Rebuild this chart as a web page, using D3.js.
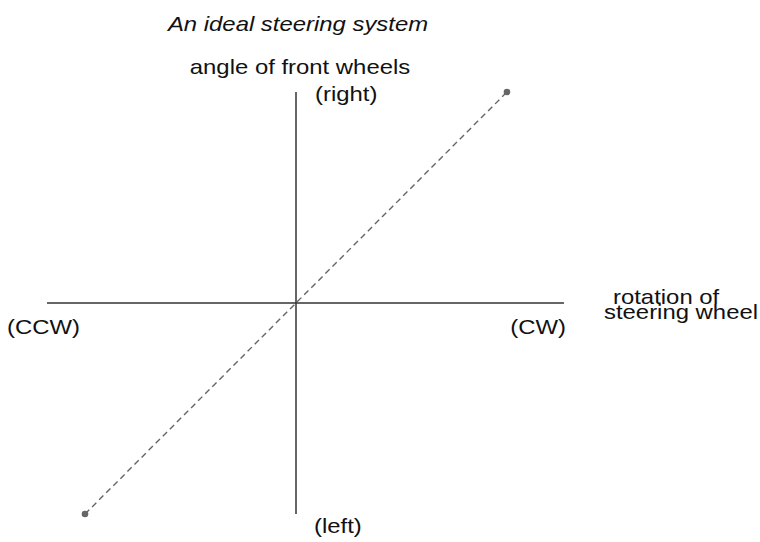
<!DOCTYPE html>
<html>
<head>
<meta charset="utf-8">
<script src="https://cdn.jsdelivr.net/npm/d3@7"></script>
<style>
body { margin: 0; background: #fff; }
text { font-family: "Liberation Sans", Arial, sans-serif; fill: #111; }
</style>
</head>
<body>
<svg id="chart" width="760" height="542"></svg>
<script>
// how far each axis reaches, in steering units
var xAxisExtent = [-1.18, 1.27];
var yAxisExtent = [-1, 1];

// ideal steering: wheel angle follows wheel rotation one to one
var rotation = [-1, 1];
var wheelAngle = [-1, 1];

var titleText = 'An ideal steering system';
var yTitle = 'angle of front wheels';
var xTitle = ['rotation of', 'steering wheel'];
var xEnds = ['(CCW)', '(CW)'];
var yEnds = ['(left)', '(right)'];

var svg = d3.select('#chart'),
	stretch = 1.16,
	fs = 20.6;

var x = d3.scaleLinear().domain([-1, 1]).range([85, 507]),
	y = d3.scaleLinear().domain([-1, 1]).range([514, 92]);

// axes through the origin
svg.append('line')
	.attr('x1', x(xAxisExtent[0])).attr('x2', x(xAxisExtent[1]))
	.attr('y1', y(0)).attr('y2', y(0))
	.attr('stroke', '#333').attr('stroke-width', 1.5);
svg.append('line')
	.attr('x1', x(0)).attr('x2', x(0))
	.attr('y1', y(yAxisExtent[0])).attr('y2', y(yAxisExtent[1]))
	.attr('stroke', '#333').attr('stroke-width', 1.5);

// the response line
var pts = rotation.map(function (r, i) {return [r, wheelAngle[i]];});
svg.append('path')
	.datum(pts)
	.attr('d', d3.line().x(function (d) {return x(d[0]);}).y(function (d) {return y(d[1]);}))
	.attr('fill', 'none')
	.attr('stroke', '#666')
	.attr('stroke-width', 1.4)
	.attr('stroke-dasharray', '6,4');
svg.selectAll('circle.end').data(pts).enter().append('circle')
	.attr('class', 'end')
	.attr('cx', function (d) {return x(d[0]);})
	.attr('cy', function (d) {return y(d[1]);})
	.attr('r', 3.3)
	.attr('fill', '#666');

// labels, slightly wide like the original lettering
function label(str, px, py, anchor, italic) {
	return svg.append('g')
		.attr('transform', 'translate(' + px + ',' + py + ') scale(' + stretch + ',1)')
		.append('text')
		.attr('text-anchor', anchor)
		.attr('font-size', fs)
		.attr('font-style', italic ? 'italic' : 'normal')
		.text(str);
}

label(titleText, 298, 31, 'middle', true);
label(yTitle, x(0) + 4, 74, 'middle');
label(yEnds[1], x(0) + 19, 101, 'start');
label(yEnds[0], x(0) + 18, 533, 'start');
label(xEnds[0], 7, y(0) + 31, 'start');
label(xEnds[1], x(xAxisExtent[1]) + 2, y(0) + 31, 'end');
label(xTitle[0], 613, y(0) + 1, 'start');
label(xTitle[1], 604, y(0) + 16, 'start');
</script>
</body>
</html>
